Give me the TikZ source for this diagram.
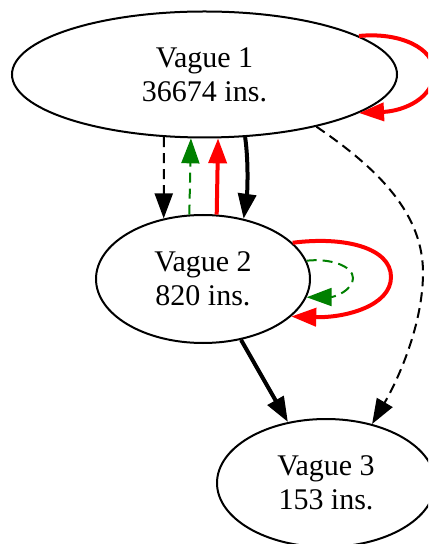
\documentclass[tikz,border=0pt]{standalone}
\usepackage{fontspec}
\setmainfont{Liberation Serif}
\usetikzlibrary{shapes.geometric, arrows.meta}
\definecolor{flowgreen}{HTML}{008000}

\tikzset{
  vague/.style={ellipse, draw, line width=1pt, inner sep=0pt, align=center,
    font=\fontsize{15pt}{17pt}\selectfont},
  flowthin/.style={line width=1pt, -{Triangle[length=12.5pt,width=9pt]}},
  flowthick/.style={line width=2pt, -{Triangle[length=12.5pt,width=9pt]}},
  flowdash/.style={flowthin, dash pattern=on 5pt off 3pt}
}

\begin{document}
\begin{tikzpicture}[x=0.5pt, y=-0.5pt]
\clip (0,0) rectangle (428,544);
% Nodes
\node[vague, minimum width=192.5pt, minimum height=63pt] (v1) at (204.5,74.5) {Vague 1\\36674 ins.};
\node[vague, minimum width=107pt, minimum height=64pt] (v2) at (203,279) {Vague 2\\820 ins.};
\node[vague, minimum width=109pt, minimum height=64pt] (v3) at (326,483) {Vague 3\\153 ins.};
% Vague 1 <-> Vague 2
\draw[flowdash] (v1.-123) -- (v2.123);
\draw[flowdash, flowgreen] (v2.102) -- (v1.-102);
\draw[flowthick, red] (v2.78) -- (v1.-78);
\draw[flowthick] (v1.-57) .. controls (249,165) and (247,195) .. (v2.56);
% Loop on Vague 1 (red)
\draw[flowthick, red] (v1.14) .. controls (400,32) and (434,48) .. (434,72)
  .. controls (434,98) and (404,111) .. (v1.-14);
% Loops on Vague 2
\draw[flowthick, red] (v2.22) .. controls (345,236) and (391,248) .. (391,277)
  .. controls (391,306) and (345,318) .. (v2.-23);
\draw[flowdash, flowgreen] (v2.10) .. controls (330,258) and (353,266) .. (353,278)
  .. controls (353,290) and (335,297) .. (v2.-10);
% Towards Vague 3
\draw[flowthick] (v2.-58) -- (v3.122);
\draw[flowdash] (v1.-25) .. controls (380,170) and (424,215) .. (423,275)
  .. controls (422,330) and (395,385) .. (v3.52);
\end{tikzpicture}
\end{document}
